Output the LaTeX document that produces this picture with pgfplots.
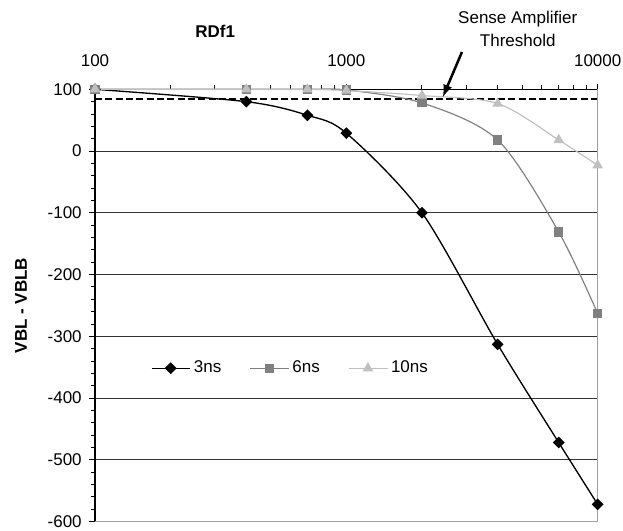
\documentclass[border=0pt]{standalone}
\usepackage{fontspec}
\setmainfont{Liberation Sans}
\usepackage{pgfplots}
\pgfplotsset{compat=1.18}

\definecolor{sixns}{HTML}{808080}
\definecolor{tenns}{HTML}{C0C0C0}
\definecolor{gridc}{HTML}{333333}
\definecolor{framec}{HTML}{A0A0A0}

\newcommand{\chartfont}{\fontsize{10.2}{12}\selectfont}

\begin{document}
\begin{tikzpicture}[font=\chartfont]
\begin{axis}[
    name=ax,
    scale only axis,
    width=301.6pt,
    height=259.4pt,
    xmode=log,
    xmin=100, xmax=10000,
    ymin=-600, ymax=100,
    axis x line*=top,
    axis y line*=left,
    axis line style={black, line width=0.7pt},
    xtick={100,1000,10000},
    xticklabels={100,1000,10000},
    minor xtick={200,300,400,500,600,700,800,900,2000,3000,4000,5000,6000,7000,8000,9000},
    ytick={-600,-500,-400,-300,-200,-100,0,100},
    yticklabels={-600,-500,-400,-300,-200,-100,0,100},
    minor y tick num=4,
    tick align=outside,
    major tick length=3.4pt,
    minor tick length=2.4pt,
    tick style={black, line width=0.6pt},
    ymajorgrids,
    major grid style={gridc, line width=0.6pt},
    tick label style={font=\chartfont},
    xticklabel style={anchor=center, inner sep=0pt, yshift=14.1pt},
    yticklabel style={anchor=east, inner sep=0pt, xshift=-4.4pt},
    xlabel={\textbf{RDf1}},
    xlabel style={at={(rel axis cs:0.239,1)}, anchor=center, yshift=34.8pt, font=\chartfont},
    ylabel={\textbf{VBL - VBLB}},
    ylabel style={at={(rel axis cs:0,0.5)}, anchor=center, yshift=44.4pt, font=\chartfont},
    clip=false,
    legend style={draw=none, fill=none, at={(rel axis cs:0.39,0.355)}, anchor=center,
        legend columns=-1, font=\chartfont,
        /tikz/every even column/.append style={column sep=15pt}},
    legend image code/.code={
        \draw[mark repeat=2, mark phase=2, #1] plot coordinates {(0pt,0pt) (11.5pt,0pt) (23pt,0pt)};
    },
]
% threshold
\addplot[black, line width=1.2pt, dash pattern=on 4.2pt off 2pt, forget plot]
    coordinates {(100,84) (10000,84)};

\addplot[black, line width=0.8pt, smooth, mark=square*, mark size=2.1pt,
    mark options={rotate=45, solid, fill=black}]
    coordinates {(100,100) (400,80) (700,58) (1000,29) (2000,-100) (4000,-313) (7000,-472) (10000,-572)};
\addplot[sixns, line width=0.7pt, smooth, mark=square*, mark size=2.4pt,
    mark options={solid, fill=sixns}]
    coordinates {(100,100) (400,100) (700,100) (1000,99) (2000,78) (4000,18) (7000,-131) (10000,-263)};
\addplot[tenns, line width=0.7pt, smooth, mark=triangle*, mark size=3pt,
    mark options={solid, fill=tenns}]
    coordinates {(100,100) (400,100) (700,100) (1000,98) (2000,90) (4000,77) (7000,18) (10000,-23)};
\legend{3ns, 6ns, 10ns}

% plot area frame on right and bottom
\draw[framec, line width=0.9pt] (rel axis cs:0,0) -- (rel axis cs:1,0) -- (rel axis cs:1,1);

% annotation
\node[align=center, font=\fontsize{10.2}{13.8}\selectfont] at ([yshift=36.2pt]rel axis cs:0.841,1)
    {Sense Amplifier\\Threshold};
\draw[black, line width=1.5pt, -latex] ([yshift=22.4pt]rel axis cs:0.730,1) -- ([yshift=-4.6pt]rel axis cs:0.692,1);
\end{axis}
\pgfresetboundingbox
\path[use as bounding box] ([shift={(-57pt,-5.6pt)}]ax.south west) rectangle ([shift={(15.2pt,53.6pt)}]ax.north east);
\end{tikzpicture}
\end{document}
